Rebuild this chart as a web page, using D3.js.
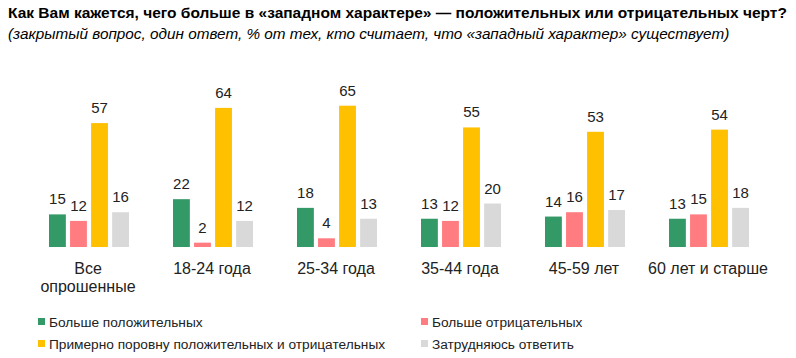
<!DOCTYPE html>
<html><head><meta charset="utf-8">
<script src="https://cdn.jsdelivr.net/npm/d3@7"></script>
<style>body{margin:0;background:#fff}svg{display:block}text{font-family:"Liberation Sans",Arial,sans-serif}</style>
</head><body><svg id="c" width="796" height="358"></svg>
<script>
const categories = [["Все","опрошенные"],["18-24 года"],["25-34 года"],["35-44 года"],["45-59 лет"],["60 лет и старше"]];
const seriesNames = ["Больше положительных","Больше отрицательных","Примерно поровну положительных и отрицательных","Затрудняюсь ответить"];
const colors = ["#339966","#ff7c80","#ffc000","#d9d9d9"];
const positive = [15,22,18,13,14,13];
const negative = [12,2,4,12,16,15];
const equal = [57,64,65,55,53,54];
const hard = [16,12,13,20,17,18];
const series = [positive,negative,equal,hard];

const svg = d3.select("#c");
svg.append("text").attr("x",8).attr("y",18).attr("font-size",15.5).attr("font-weight","bold").attr("fill","#000")
  .text("Как Вам кажется, чего больше в «западном характере» — положительных или отрицательных черт?");
svg.append("text").attr("x",8).attr("y",39).attr("font-size",15.3).attr("font-style","italic").attr("fill","#000")
  .text("(закрытый вопрос, один ответ, % от тех, кто считает, что «западный характер» существует)");

const x0 = d3.scaleBand().domain(d3.range(categories.length)).range([26,770]).paddingInner(0).paddingOuter(0);
const x1 = d3.scaleBand().domain(d3.range(series.length)).range([x0.bandwidth()/2-39, x0.bandwidth()/2+41]).paddingInner(0.2).paddingOuter(0);
const y = d3.scaleLinear().domain([0,65]).range([247,105.7]);

const g = svg.append("g");
categories.forEach((cat,i)=>{
  const gg = g.append("g").attr("transform",`translate(${x0(i)},0)`);
  series.forEach((s,j)=>{
    gg.append("rect").attr("x",x1(j)).attr("width",x1.bandwidth()).attr("y",y(s[i])).attr("height",y(0)-y(s[i])).attr("fill",colors[j]);
    gg.append("text").attr("x",x1(j)+x1.bandwidth()/2).attr("y",y(s[i])-10).attr("text-anchor","middle").attr("font-size",15).attr("fill","#222").text(s[i]);
  });
  const t = gg.append("text").attr("x",x0.bandwidth()/2).attr("y",274).attr("text-anchor","middle").attr("font-size",16).attr("fill","#222");
  cat.forEach((line,k)=>t.append("tspan").attr("x",x0.bandwidth()/2).attr("dy",k?18:0).text(line));
});

const legPos = [[38,327],[421,327],[38,349],[421,349]];
seriesNames.forEach((n,j)=>{
  const [lx,ly]=legPos[j];
  svg.append("rect").attr("x",lx).attr("y",ly-9).attr("width",7).attr("height",7).attr("fill",colors[j]);
  svg.append("text").attr("x",lx+11).attr("y",ly).attr("font-size",13.7).attr("fill","#222").text(n);
});
</script></body></html>
